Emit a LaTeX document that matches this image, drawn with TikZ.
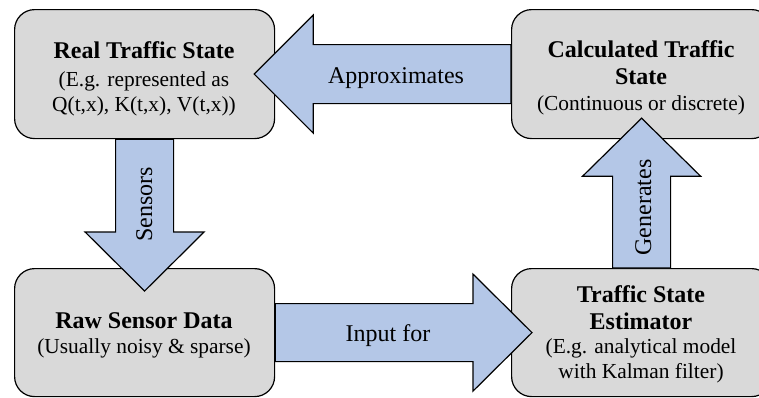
\documentclass[tikz,border=0pt]{standalone}
\usepackage{fontspec}
\setmainfont{Liberation Serif}
\usetikzlibrary{calc}
\definecolor{boxgray}{HTML}{D9D9D9}
\definecolor{arrowblue}{HTML}{B4C7E7}
\begin{document}
\begin{tikzpicture}[x=1pt,y=-1pt,
  statebox/.style={draw=black, line width=1.2pt, fill=boxgray, rounded corners=20pt,
    minimum width=260pt, minimum height=129pt, inner sep=0pt, anchor=north west},
  fatarrow/.style={draw=black, line width=1.2pt, fill=arrowblue, line join=miter},
  headline/.style={font=\fontsize{24}{28}\selectfont\bfseries, anchor=base, inner sep=0pt},
  subline/.style={font=\fontsize{21.4}{25}\selectfont, anchor=base, inner sep=0pt},
  arrowlabel/.style={font=\fontsize{24}{28}\selectfont, anchor=base, inner sep=0pt}]

\useasboundingbox (0,0) rectangle (759,397);
\clip (0,0) rectangle (759,397);

% the four state boxes
\node[statebox] (real) at (14,9) {};
\node[statebox] (calcd) at (511,9) {};
\node[statebox, minimum height=128pt] (raw) at (14,268) {};
\node[statebox, minimum height=128pt] (est) at (511,268) {};

% box texts
\node[headline] (realA) at (144,58) {Real Traffic State};
\node[subline]  (realB) at (144,86.5) {(E.g. represented as};
\node[subline]  (realC) at (144,111.5) {Q(t,x), K(t,x), V(t,x))};

\node[headline] (calcA) at (641,57.5) {Calculated Traffic};
\node[headline] (calcB) at (641,84.5) {State};
\node[subline]  (calcC) at (641,110) {(Continuous or discrete)};

\node[headline] (rawA) at (144,328) {Raw Sensor Data};
\node[subline]  (rawB) at (144,353) {(Usually noisy \& sparse)};

\node[headline] (estA) at (641,302) {Traffic State};
\node[headline] (estB) at (641,329) {Estimator};
\node[subline]  (estC) at (641,353.5) {(E.g. analytical model};
\node[subline]  (estD) at (641,378) {with Kalman filter)};

% block arrows between the boxes
% calculated -> real
\draw[fatarrow] ($(calcd.west)+(0,-29.5)$) -- ($(real.east)+(38,-29.5)$)
  -- ($(real.east)+(38,-59)$) -- ($(real.east)+(-21,0)$)
  -- ($(real.east)+(38,59)$) -- ($(real.east)+(38,29.5)$)
  -- ($(calcd.west)+(0,29.5)$) -- cycle;
% real -> raw
\draw[fatarrow] ($(real.south)+(-29,0)$) -- ($(raw.north)+(-29,-36)$)
  -- ($(raw.north)+(-59.5,-36)$) -- ($(raw.north)+(0,23)$)
  -- ($(raw.north)+(59.5,-36)$) -- ($(raw.north)+(29,-36)$)
  -- ($(real.south)+(29,0)$) -- cycle;
% estimator -> calculated
\draw[fatarrow] ($(est.north)+(-29,0)$) -- ($(calcd.south)+(-29,37)$)
  -- ($(calcd.south)+(-59,37)$) -- ($(calcd.south)+(0,-21)$)
  -- ($(calcd.south)+(59,37)$) -- ($(calcd.south)+(29,37)$)
  -- ($(est.north)+(29,0)$) -- cycle;
% raw -> estimator
\draw[fatarrow] ($(raw.east)+(0,-29)$) -- ($(est.west)+(-38,-29)$)
  -- ($(est.west)+(-38,-58.5)$) -- ($(est.west)+(21,0)$)
  -- ($(est.west)+(-38,58.5)$) -- ($(est.west)+(-38,29)$)
  -- ($(raw.east)+(0,29)$) -- cycle;

% arrow labels
\node[arrowlabel] (lblApprox) at (396,83) {Approximates};
\node[arrowlabel] (lblInput) at (388,341.5) {Input for};
\node[arrowlabel, rotate=90] (lblSensors) at (152,204.5) {Sensors};
\node[arrowlabel, rotate=90] (lblGen) at (651,207.5) {Generates};
\end{tikzpicture}
\end{document}
